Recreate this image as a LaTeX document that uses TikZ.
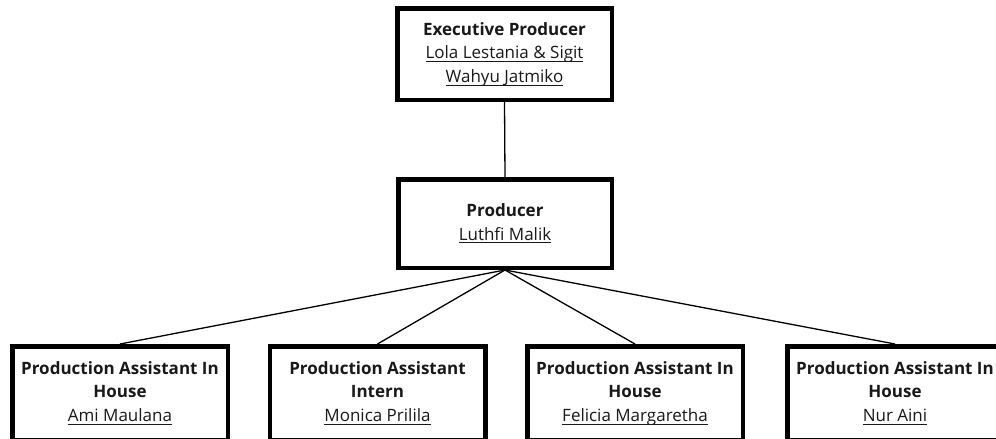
\documentclass[tikz,border=0pt]{standalone}
\usepackage{fontspec}
\setmainfont{Open Sans}
\tikzset{
  x=1pt, y=-1pt,
  orgbox/.style={draw=black, line width=4.5pt, fill=white, align=center,
    inner sep=0pt, text=black!90, font=\fontsize{17}{23.5}\selectfont},
  topbox/.style={orgbox, minimum width=214.5pt, minimum height=91.5pt},
  midbox/.style={orgbox, minimum width=213.5pt, minimum height=88.5pt},
  lowbox/.style={orgbox, minimum width=215.5pt, minimum height=93.5pt},
  link/.style={draw=black, line width=1.3pt}
}
\newcommand{\nm}[1]{\setbox0\hbox{#1}\dp0=0pt\rlap{\rule[-3.2pt]{\wd0}{1pt}}\box0}
\begin{document}
\begin{tikzpicture}
\useasboundingbox (0,0) rectangle (996,439);
\clip (0,0) rectangle (996,439);
\fill[white] (0,0) rectangle (996,439);
\node[topbox] (ep) at (504.5,54) {\textbf{Executive Producer}\\\nm{Lola Lestania \& Sigit}\\\nm{Wahyu Jatmiko}};
\node[midbox] (pr) at (505,223.5) {\textbf{Producer}\\\nm{Luthfi Malik}};
\node[lowbox] (a1) at (120,393) {\textbf{Production Assistant In}\\\textbf{House}\\\nm{Ami Maulana}};
\node[lowbox] (a2) at (377.5,393) {\textbf{Production Assistant}\\\textbf{Intern}\\\nm{Monica Prilila}};
\node[lowbox] (a3) at (635,393) {\textbf{Production Assistant In}\\\textbf{House}\\\nm{Felicia Margaretha}};
\node[lowbox] (a4) at (895,393) {\textbf{Production Assistant In}\\\textbf{House}\\\nm{Nur Aini}};
\draw[link] (ep.south) -- (pr.north);
\draw[link] (pr.south) -- (a1.north);
\draw[link] (pr.south) -- (a2.north);
\draw[link] (pr.south) -- (a3.north);
\draw[link] (pr.south) -- (a4.north);
\end{tikzpicture}
\end{document}
